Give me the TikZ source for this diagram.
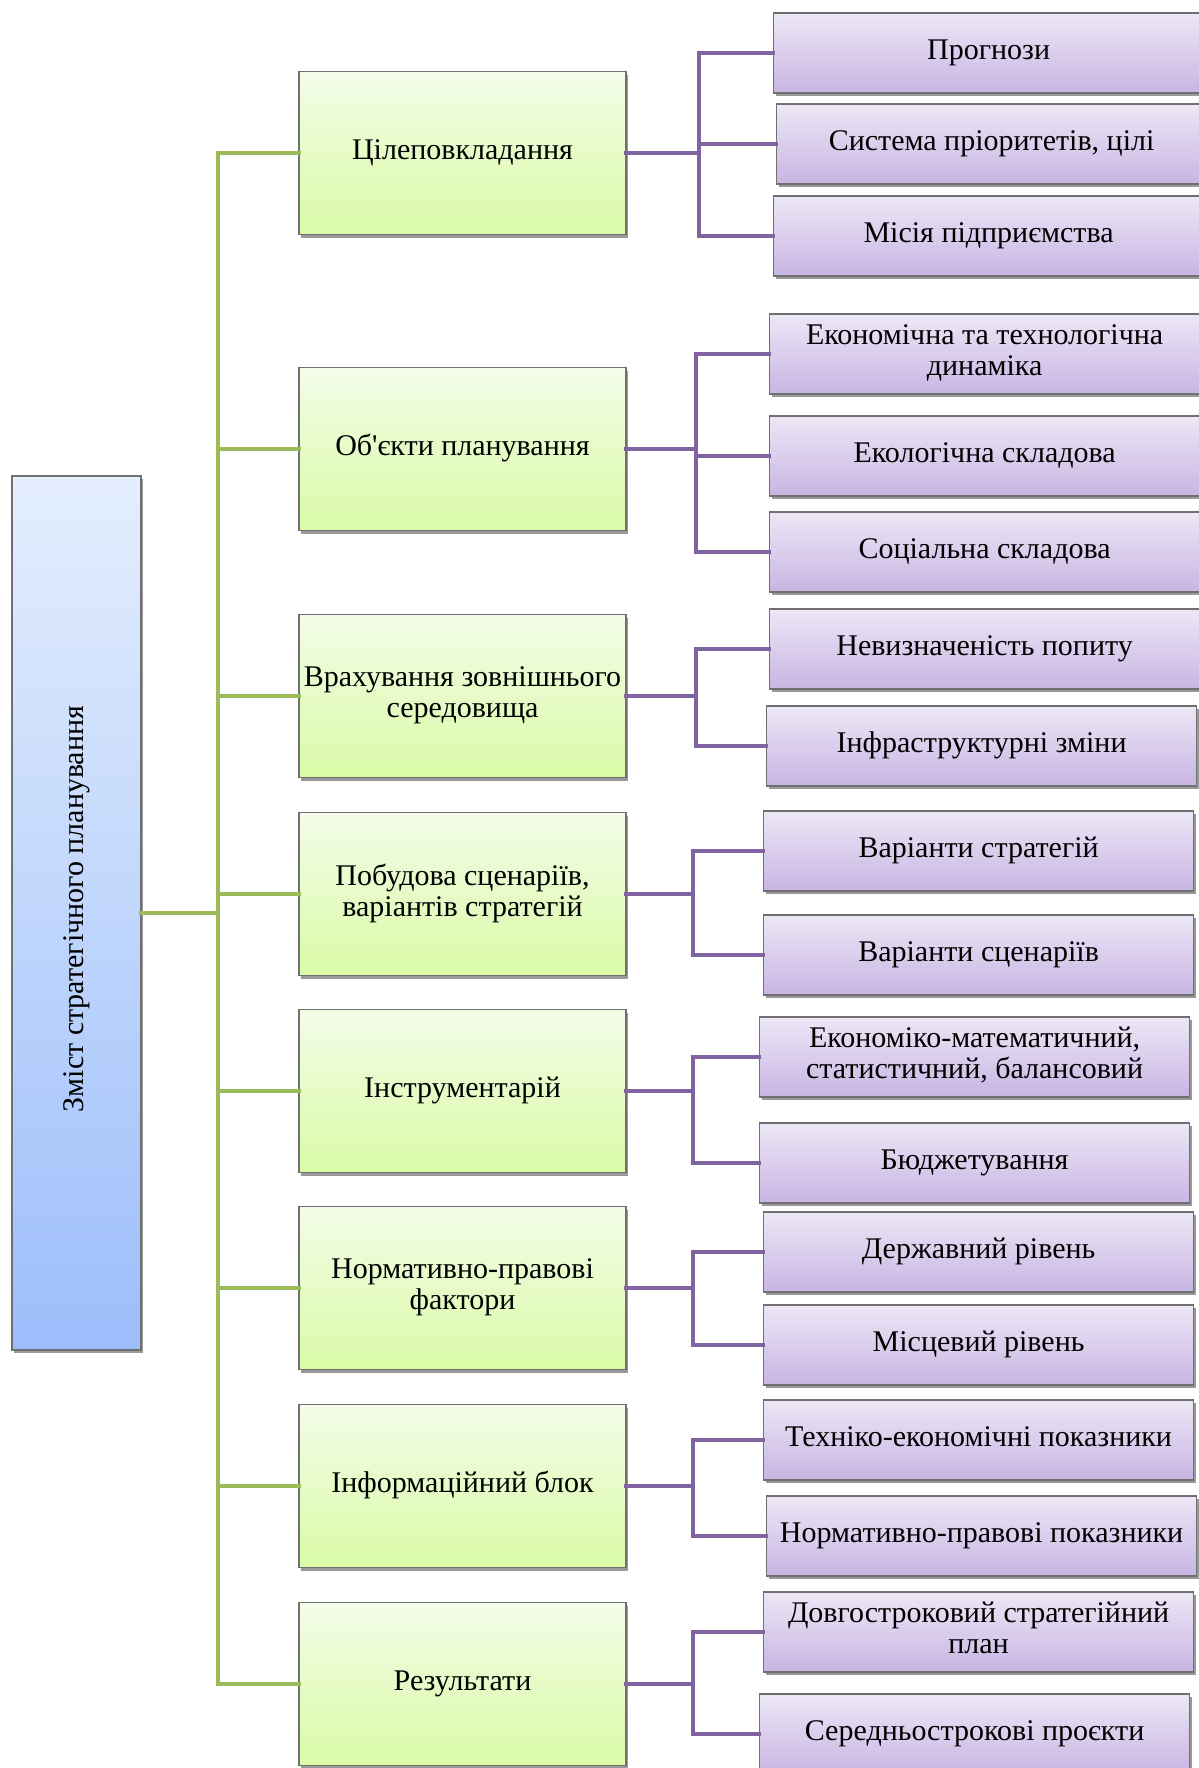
\documentclass[tikz,border=0pt]{standalone}
\usepackage{fontspec}
\setmainfont{Liberation Serif}[Ligatures=TeXOff]
\usetikzlibrary{shadows}
\definecolor{gtop}{HTML}{F3FCE8}
\definecolor{gbot}{HTML}{D9FBA6}
\definecolor{ptop}{HTML}{EDE7F6}
\definecolor{pbot}{HTML}{C8B5E3}
\definecolor{btop}{HTML}{E4EEFD}
\definecolor{bbot}{HTML}{9CBEFB}
\definecolor{gline}{HTML}{9BBB59}
\definecolor{pline}{HTML}{8064A2}
\definecolor{bord}{HTML}{707070}
\tikzset{box/.style = {rectangle, draw=bord, line width=0.6pt, inner sep=2pt, align=center,
                        font=\fontsize{15}{15.5}\selectfont,
                        execute at begin node=\rule[-4pt]{0pt}{14pt},
                        drop shadow={shadow xshift=1pt, shadow yshift=-1.5pt, opacity=.4, fill=black}},
         root/.style = {box, top color=btop, bottom color=bbot, minimum width=64.5pt, minimum height=437pt,
                        execute at begin node={}},
         mid/.style = {box, top color=gtop, bottom color=gbot, minimum width=163.5pt, minimum height=81.5pt},
         sub/.style = {box, top color=ptop, bottom color=pbot, minimum width=215pt, minimum height=40pt, anchor=west},
         gw/.style = {draw=gline, line width=2.4pt},
         pw/.style = {draw=pline, line width=2.4pt}}

\begin{document}
\begin{tikzpicture}[x=0.5pt, y=-0.5pt, line cap=rect]
    \useasboundingbox (0,0) rectangle (1199,1768);
    \node[root] (r) at (76.5,913) {\rotatebox{90}{Зміст стратегічного планування}};
    \node[mid] (m1) at (462.5,153) {Цілеповкладання};
    \node[mid] (m2) at (462.5,449) {Об'єкти планування};
    \node[mid] (m3) at (462.5,696) {Врахування зовнішнього\\середовища};
    \node[mid] (m4) at (462.5,894) {Побудова сценаріїв,\\варіантів стратегій};
    \node[mid] (m5) at (462.5,1091) {Інструментарій};
    \node[mid] (m6) at (462.5,1288) {Нормативно-правові\\фактори};
    \node[mid] (m7) at (462.5,1486) {Інформаційний блок};
    \node[mid] (m8) at (462.5,1684) {Результати};
    \node[sub] (c11) at (773,53) {Прогнози};
    \node[sub] (c12) at (776,144) {Система пріоритетів, цілі};
    \node[sub] (c13) at (773,236) {Місія підприємства};
    \node[sub] (c21) at (769,354) {Економічна та технологічна\\динаміка};
    \node[sub] (c22) at (769,456) {Екологічна складова};
    \node[sub] (c23) at (769,552) {Соціальна складова};
    \node[sub] (c31) at (769,649) {Невизначеність попиту};
    \node[sub] (c32) at (766,746) {Інфраструктурні зміни};
    \node[sub] (c41) at (763,851) {Варіанти стратегій};
    \node[sub] (c42) at (763,955) {Варіанти сценаріїв};
    \node[sub] (c51) at (759,1057) {Економіко-математичний,\\статистичний, балансовий};
    \node[sub] (c52) at (759,1163) {Бюджетування};
    \node[sub] (c61) at (763,1252) {Державний рівень};
    \node[sub] (c62) at (763,1345) {Місцевий рівень};
    \node[sub] (c71) at (763,1440) {Техніко-економічні показники};
    \node[sub] (c72) at (766,1536) {Нормативно-правові показники};
    \node[sub] (c81) at (763,1632) {Довгостроковий стратегійний\\план};
    \node[sub] (c82) at (759,1734) {Середньострокові проєкти};
    \coordinate (tr) at (218,0);
    \coordinate (b1) at (699,0); \coordinate (b2) at (696,0); \coordinate (b3) at (696,0);
    \coordinate (b4) at (693,0); \coordinate (b5) at (693,0); \coordinate (b6) at (693,0);
    \coordinate (b7) at (693,0); \coordinate (b8) at (693,0);
    \draw[gw] (r.east) -- (r.east -| tr);
    \draw[gw] (m1.west) -| (m8.west -| tr) -- (m8.west);
    \foreach \m in {m2,m3,m4,m5,m6,m7} \draw[gw] (\m.west) -- (\m.west -| tr);
    \foreach \c in {c11,c12,c13} \draw[pw] (m1.east) -| (\c.west -| b1) -- (\c.west);
    \foreach \c in {c21,c22,c23} \draw[pw] (m2.east) -| (\c.west -| b2) -- (\c.west);
    \foreach \c in {c31,c32} \draw[pw] (m3.east) -| (\c.west -| b3) -- (\c.west);
    \foreach \c in {c41,c42} \draw[pw] (m4.east) -| (\c.west -| b4) -- (\c.west);
    \foreach \c in {c51,c52} \draw[pw] (m5.east) -| (\c.west -| b5) -- (\c.west);
    \foreach \c in {c61,c62} \draw[pw] (m6.east) -| (\c.west -| b6) -- (\c.west);
    \foreach \c in {c71,c72} \draw[pw] (m7.east) -| (\c.west -| b7) -- (\c.west);
    \foreach \c in {c81,c82} \draw[pw] (m8.east) -| (\c.west -| b8) -- (\c.west);
\end{tikzpicture}
\end{document}
